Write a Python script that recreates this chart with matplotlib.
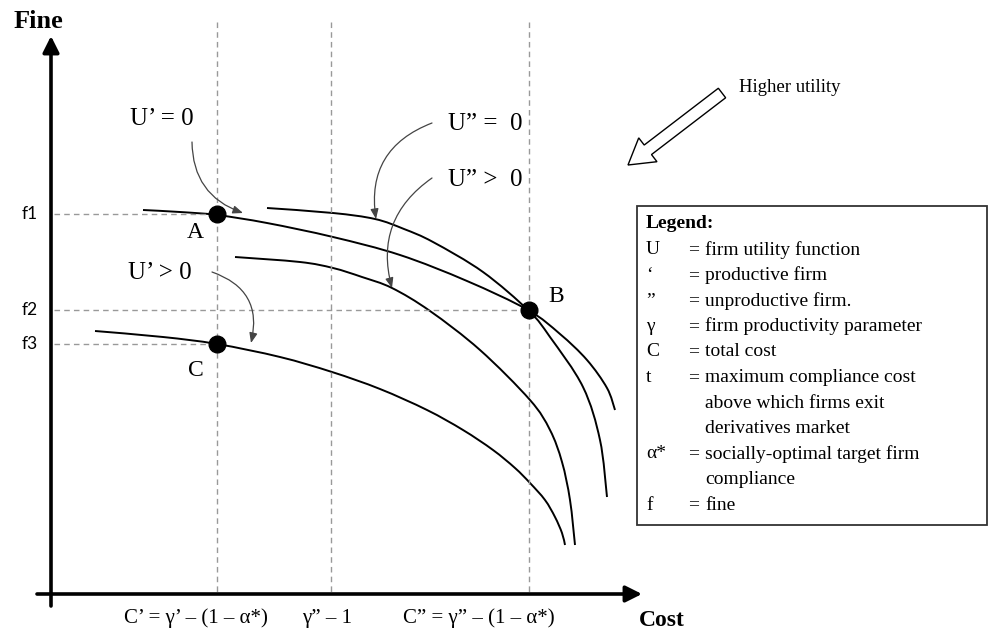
import matplotlib.pyplot as plt
from matplotlib.patches import FancyArrow, Rectangle, PathPatch
from matplotlib.path import Path

# coordinates (pixels, y going down)

# indifference curves
ua_x = [143, 180, 217, 267, 333, 400, 467, 528, 560, 587, 607, 615]
ua_y = [210, 212, 215, 223, 237, 255, 281, 310, 334, 360, 388, 410]

ub_x = [267, 333, 375, 404, 433, 483, 529, 550, 583, 600, 607]
ub_y = [208, 213, 219, 229, 242, 272, 311, 337, 387, 440, 497]

uc_x = [235, 300, 333, 362, 392, 430, 480, 530, 550, 562, 570, 575]
uc_y = [257, 262, 268, 277, 288, 311, 350, 400, 430, 462, 500, 545]

ud_x = [95, 163, 217, 280, 332, 380, 427, 463, 493, 515, 530, 545, 555, 562, 565]
ud_y = [331, 337, 344, 357, 372, 389, 410, 430, 450, 468, 483, 500, 517, 533, 545]

# points A, B, C
pt_names = ["A", "B", "C"]
pt_x = [217, 529, 217]
pt_y = [214, 310, 344]

# fine levels and cost levels
f_names = ["f1", "f2", "f3"]
f_y = [214, 310, 344]
f_end = [217, 529, 217]
cost_x = [217, 331, 529]
cost_labels = ["C’ = γ’ – (1 – α*)", "γ” – 1", "C” = γ” – (1 – α*)"]
cost_label_x = [196, 327, 479]

legend_symbols = ["U", "‘", "”", "γ", "C", "t", "α*", "f"]
legend_meanings = ["firm utility function",
                   "productive firm",
                   "unproductive firm.",
                   "firm productivity parameter",
                   "total cost",
                   "maximum compliance cost\nabove which firms exit\nderivatives market",
                   "socially-optimal target firm\ncompliance",
                   "fine"]

serif = "Liberation Serif"


def smooth_path(xs, ys):
    # cubic bezier through the read points (catmull-rom style handles)
    pts = list(zip(xs, ys))
    verts = [pts[0]]
    codes = [Path.MOVETO]
    n = len(pts)
    for i in range(n - 1):
        p0 = pts[max(i - 1, 0)]
        p1 = pts[i]
        p2 = pts[i + 1]
        p3 = pts[min(i + 2, n - 1)]
        c1 = (p1[0] + (p2[0] - p0[0]) / 6, p1[1] + (p2[1] - p0[1]) / 6)
        c2 = (p2[0] - (p3[0] - p1[0]) / 6, p2[1] - (p3[1] - p1[1]) / 6)
        verts += [c1, c2, p2]
        codes += [Path.CURVE4] * 3
    return Path(verts, codes)


fig = plt.figure(figsize=(9.92, 6.38), dpi=100)
ax = fig.add_axes([0, 0, 1, 1])
ax.set_xlim(0, 992)
ax.set_ylim(638, 0)
ax.axis("off")

# guide lines
dash_kw = dict(color="#999999", lw=1.0, dashes=(4, 3))
for x in cost_x:
    ax.plot([x, x], [22, 594], **dash_kw)
for y, xe in zip(f_y, f_end):
    ax.plot([54, xe], [y, y], **dash_kw)

# main axes with arrows
ax.annotate("", xy=(51, 36), xytext=(51, 606),
            arrowprops=dict(arrowstyle="-|>,head_length=0.7,head_width=0.35",
                            lw=2.6, color="black", shrinkA=0, shrinkB=0,
                            mutation_scale=14))
ax.annotate("", xy=(642, 594), xytext=(37, 594),
            arrowprops=dict(arrowstyle="-|>,head_length=0.7,head_width=0.35",
                            lw=2.6, color="black", shrinkA=0, shrinkB=0,
                            mutation_scale=14))

# curves
for xs, ys in [(ua_x, ua_y), (ub_x, ub_y), (uc_x, uc_y), (ud_x, ud_y)]:
    ax.add_patch(PathPatch(smooth_path(xs, ys), fill=False, ec="black",
                           lw=1.4, capstyle="butt"))

ax.plot(pt_x, pt_y, "o", color="black", markersize=12, zorder=5)

lab_off = [(-22, 18), (27, -13), (-21, 26)]
for name, x, y, (dx, dy) in zip(pt_names, pt_x, pt_y, lab_off):
    ax.text(x + dx, y + dy, name, family=serif, fontsize=17,
            ha="center", va="center")

for name, y in zip(f_names, f_y):
    ax.text(30, y, name, family="Lato", fontsize=12.5, ha="center", va="center")

for lab, x in zip(cost_labels, cost_label_x):
    ax.text(x, 618, lab, family=serif, fontsize=15, ha="center", va="center")

ax.text(38, 22, "Fine", family=serif, fontsize=19, weight="bold",
        ha="center", va="center")
ax.text(662, 621, "Cost", family=serif, fontsize=17, weight="bold",
        ha="center", va="center")

# curve labels with curved arrows
ann_kw = dict(arrowstyle="-|>,head_length=0.5,head_width=0.2", lw=0.9,
              color="#444444", shrinkA=0, shrinkB=0, mutation_scale=12)
ax.text(162, 119, "U’ = 0", family=serif, fontsize=18, ha="center", va="center")
ax.annotate("", xy=(243, 213), xytext=(192, 142),
            arrowprops=dict(connectionstyle="arc3,rad=0.35", **ann_kw))
ax.text(485, 124, "U” =  0", family=serif, fontsize=18, ha="center", va="center")
ax.annotate("", xy=(376, 219), xytext=(432, 123),
            arrowprops=dict(connectionstyle="arc3,rad=0.4", **ann_kw))
ax.text(485, 180, "U” >  0", family=serif, fontsize=18, ha="center", va="center")
ax.annotate("", xy=(392, 288), xytext=(432, 178),
            arrowprops=dict(connectionstyle="arc3,rad=0.35", **ann_kw))
ax.text(160, 273, "U’ > 0", family=serif, fontsize=18, ha="center", va="center")
ax.annotate("", xy=(251, 343), xytext=(212, 272),
            arrowprops=dict(connectionstyle="arc3,rad=-0.45", **ann_kw))

# higher utility arrow
ax.add_patch(FancyArrow(722, 93, -94, 72, width=12, head_width=30,
                        head_length=25, length_includes_head=True,
                        fc="white", ec="black", lw=1.0))
ax.text(790, 88, "Higher utility", family=serif, fontsize=13.5,
        ha="center", va="center")

# legend box
ax.add_patch(Rectangle((637, 206), 350, 319, fill=False, ec="#333333", lw=1.3))
ax.text(646, 223, "Legend:", family=serif, fontsize=14, weight="bold",
        ha="left", va="center")
y = 250
step = 25.5
for sym, meaning in zip(legend_symbols, legend_meanings):
    ax.text(646, y, sym, family=serif, fontsize=14, ha="left", va="center")
    ax.text(688, y, "=", family=serif, fontsize=14, ha="left", va="center")
    for line in meaning.split("\n"):
        ax.text(705, y, line, family=serif, fontsize=14, ha="left", va="center")
        y += step

fig.savefig("out.png", dpi=100)
